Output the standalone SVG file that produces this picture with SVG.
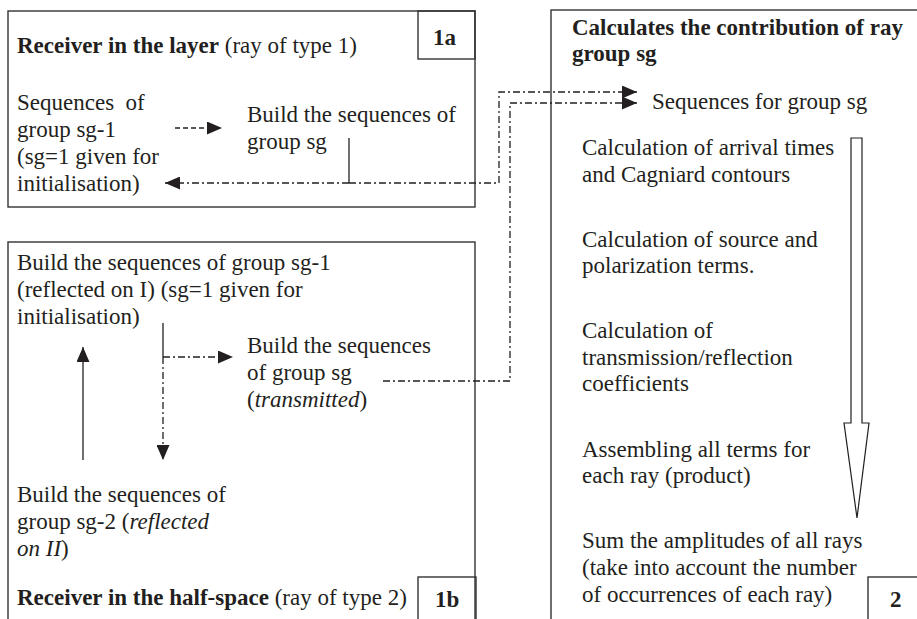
<svg xmlns="http://www.w3.org/2000/svg" width="917" height="619" viewBox="0 0 917 619">
<style>
text{font-family:"Liberation Serif","Times New Roman",serif;font-size:23px;fill:#231f20}
.b{font-weight:bold}
.i{font-style:italic}
.box{fill:none;stroke:#333;stroke-width:1.4}
.solid{fill:none;stroke:#231f20;stroke-width:1.3}
.dd{fill:none;stroke:#231f20;stroke-width:1.3;stroke-dasharray:7 3 2 3}
.ds{fill:none;stroke:#231f20;stroke-width:1.3;stroke-dasharray:5 3}
</style>
<defs>
<marker id="ah" viewBox="0 0 15 13" refX="15" refY="6.5" markerWidth="15" markerHeight="13" markerUnits="userSpaceOnUse" orient="auto">
<path d="M0,0 L15,6.5 L0,13 z" fill="#231f20"/>
</marker>
</defs>
<rect width="917" height="619" fill="#fff"/>
<g id="box1a">
<rect class="box" x="8" y="11" width="467" height="196"/>
<rect class="box" x="418" y="11" width="57" height="48"/>
<text class="b" x="433" y="45">1a</text>
<text x="17" y="53"><tspan class="b">Receiver in the layer</tspan> (ray of type 1)</text>
<text x="17" y="110">Sequences&#160; of</text>
<text x="17" y="137">group sg-1</text>
<text x="17" y="164">(sg=1 given for</text>
<text x="17" y="191">initialisation)</text>
<text x="247" y="122">Build the sequences of</text>
<text x="247" y="149">group sg</text>
</g>
<g id="box1b">
<rect class="box" x="8" y="242" width="467" height="420"/>
<rect class="box" x="418" y="577" width="58" height="60"/>
<text class="b" x="435" y="607">1b</text>
<text x="17" y="270">Build the sequences of group sg-1</text>
<text x="17" y="297">(reflected on I) (sg=1 given for</text>
<text x="17" y="324">initialisation)</text>
<text x="247" y="353">Build the sequences</text>
<text x="247" y="380">of group sg</text>
<text x="247" y="407">(<tspan class="i">transmitted</tspan>)</text>
<text x="17" y="502">Build the sequences of</text>
<text x="17" y="529">group sg-2 (<tspan class="i">reflected</tspan></text>
<text x="17" y="556"><tspan class="i">on II</tspan>)</text>
<text x="17" y="605"><tspan class="b">Receiver in the half-space</tspan> (ray of type 2)</text>
</g>
<g id="box2">
<rect class="box" x="551" y="10" width="420" height="700"/>
<rect class="box" x="868" y="577" width="70" height="70"/>
<text class="b" x="890" y="607">2</text>
<text class="b" x="572" y="35">Calculates the contribution of ray</text>
<text class="b" x="572" y="61">group sg</text>
<text x="652" y="109">Sequences for group sg</text>
<text x="582" y="155">Calculation of arrival times</text>
<text x="582" y="182">and Cagniard contours</text>
<text x="582" y="247">Calculation of source and</text>
<text x="582" y="273">polarization terms.</text>
<text x="582" y="338">Calculation of</text>
<text x="582" y="365">transmission/reflection</text>
<text x="582" y="391">coefficients</text>
<text x="582" y="457">Assembling all terms for</text>
<text x="582" y="483">each ray (product)</text>
<text x="582" y="548">Sum the amplitudes of all rays</text>
<text x="582" y="575">(take into account the number</text>
<text x="582" y="602">of occurrences of each ray)</text>
<polygon points="851,138 862,138 862,423 869,423 857,518 844,423 851,423" fill="#fff" stroke="#231f20" stroke-width="1.2"/>
</g>
<g id="connectors">
<path class="ds" d="M175,128 H222" marker-end="url(#ah)"/>
<path class="solid" d="M349,138 V183"/>
<path class="dd" d="M349,183 H165" marker-end="url(#ah)"/>
<path class="dd" d="M349,183 H499 V92 H637" marker-end="url(#ah)"/>
<path class="solid" d="M163,323 V357"/>
<path class="dd" d="M163,357 H233" marker-end="url(#ah)"/>
<path class="dd" d="M163,357 V460" marker-end="url(#ah)"/>
<path class="solid" d="M83,460 V347" marker-end="url(#ah)"/>
<path class="dd" d="M383,381 H510 V103 H637" marker-end="url(#ah)"/>
</g>
</svg>
